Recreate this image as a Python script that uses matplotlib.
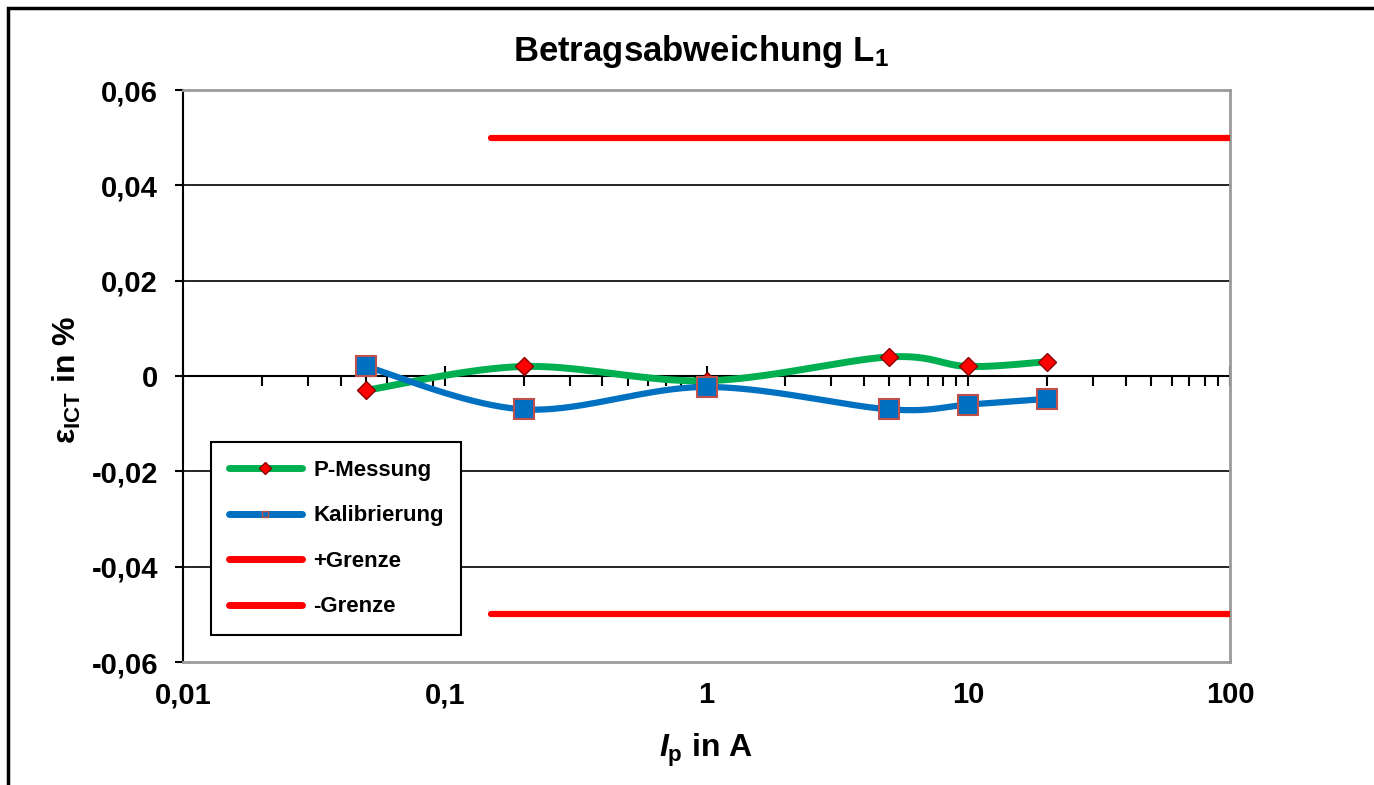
import numpy as np
import matplotlib.pyplot as plt
from matplotlib.lines import Line2D
from matplotlib.patches import Rectangle
from matplotlib.ticker import FixedLocator, FixedFormatter, LogLocator, NullFormatter

plt.rcParams['font.family'] = 'Liberation Sans'
plt.rcParams['font.weight'] = 'bold'
plt.rcParams['mathtext.fontset'] = 'custom'
plt.rcParams['mathtext.rm'] = 'Liberation Sans:bold'
plt.rcParams['mathtext.bf'] = 'Liberation Sans:bold'
plt.rcParams['mathtext.it'] = 'Liberation Sans:italic:bold'

# Messwerte
strom = [0.05, 0.2, 1, 5, 10, 20]
p_messung = [-0.003, 0.002, -0.001, 0.004, 0.002, 0.003]
kalibrierung = [0.002, -0.007, -0.0023, -0.007, -0.006, -0.0048]

# Fehlergrenzen
grenze_x = [0.15, 100]
grenze_plus = [0.05, 0.05]
grenze_minus = [-0.05, -0.05]

x_ticks = [0.01, 0.1, 1, 10, 100]
x_labels = ['0,01', '0,1', '1', '10', '100']
y_ticks = [-0.06, -0.04, -0.02, 0, 0.02, 0.04, 0.06]
y_labels = ['-0,06', '-0,04', '-0,02', '0', '0,02', '0,04', '0,06']

GRUEN = '#00B050'
BLAU = '#0070C0'
ROT = '#FF0000'


def smooth(ax, xs, ys, n=40):
    # Bezier-Glaettung wie in Excel, in Bildschirmkoordinaten
    pts = ax.transData.transform(np.column_stack([xs, ys]))
    p = np.vstack([pts[0], pts, pts[-1]])
    t = np.linspace(0, 1, n)[:, None]
    segs = []
    for i in range(1, len(p) - 2):
        p0, p3 = p[i], p[i + 1]
        c1 = p0 + (p[i + 1] - p[i - 1]) / 6
        c2 = p3 - (p[i + 2] - p[i]) / 6
        segs.append((1 - t) ** 3 * p0 + 3 * (1 - t) ** 2 * t * c1
                    + 3 * (1 - t) * t ** 2 * c2 + t ** 3 * p3)
    curve = ax.transData.inverted().transform(np.vstack(segs))
    return curve[:, 0], curve[:, 1]


fig = plt.figure(figsize=(13.74, 7.85), dpi=100)
ax = fig.add_axes([183 / 1374, 1 - 662 / 785, 1047 / 1374, 572 / 785])
ax.set_xscale('log')
ax.set_xlim(0.01, 100)
ax.set_ylim(-0.06, 0.06)

# Rahmen des Diagrammbereichs
fig.patches.append(Rectangle((8 / 1374, -0.2), 1.5, 1.2 - 8 / 785,
                             transform=fig.transFigure, fill=False,
                             edgecolor='black', linewidth=2.5))

for y in y_ticks[1:-1]:
    if y != 0:
        ax.axhline(y, color='black', linewidth=1.2, zorder=1)

for s in ['top', 'right', 'bottom']:
    ax.spines[s].set_color('#9a9a9a')
    ax.spines[s].set_linewidth(2)
ax.spines['left'].set_color('black')
ax.spines['left'].set_linewidth(1.5)

ax.yaxis.set_major_locator(FixedLocator(y_ticks))
ax.yaxis.set_major_formatter(FixedFormatter(y_labels))
ax.tick_params(axis='y', direction='out', length=6, width=1.5, pad=12,
               labelsize=21)
ax.xaxis.set_major_locator(FixedLocator(x_ticks))
ax.xaxis.set_major_formatter(FixedFormatter(x_labels))
ax.xaxis.set_minor_locator(LogLocator(subs=np.arange(2, 10)))
ax.xaxis.set_minor_formatter(NullFormatter())
ax.tick_params(axis='x', which='both', length=0, pad=14, labelsize=21)

# Rubrikenachse bei y = 0
sec = ax.secondary_xaxis(0, transform=ax.transData)
sec.spines['bottom'].set_linewidth(1.5)
sec.xaxis.set_major_locator(FixedLocator(x_ticks))
sec.xaxis.set_major_formatter(NullFormatter())
sec.xaxis.set_minor_locator(LogLocator(subs=np.arange(2, 10)))
sec.xaxis.set_minor_formatter(NullFormatter())
sec.tick_params(which='major', direction='inout', length=14, width=1.5)
sec.tick_params(which='minor', direction='out', length=7, width=1.5)

ax.plot(grenze_x, grenze_plus, color=ROT, linewidth=4.5,
        solid_capstyle='round', zorder=3)
ax.plot(grenze_x, grenze_minus, color=ROT, linewidth=4.5,
        solid_capstyle='round', zorder=3)

gx, gy = smooth(ax, strom, p_messung)
ax.plot(gx, gy, color=GRUEN, linewidth=5, solid_capstyle='round', zorder=4)
ax.plot(strom, p_messung, linestyle='none', marker='D', markersize=9.5,
        markerfacecolor=ROT, markeredgecolor='#8B0000',
        markeredgewidth=1, zorder=5)

bx, by = smooth(ax, strom, kalibrierung)
ax.plot(bx, by, color=BLAU, linewidth=4.5, solid_capstyle='round', zorder=6)
ax.plot(strom, kalibrierung, linestyle='none', marker='s', markersize=14.5,
        markerfacecolor=BLAU, markeredgecolor='#C0504D',
        markeredgewidth=1.5, zorder=7)

handles = [
    Line2D([], [], color=GRUEN, linewidth=5, marker='D', markersize=6,
           markerfacecolor=ROT, markeredgecolor='#8B0000',
           solid_capstyle='round'),
    Line2D([], [], color=BLAU, linewidth=5, marker='s', markersize=5,
           markerfacecolor=BLAU, markeredgecolor='#C0504D',
           solid_capstyle='round'),
    Line2D([], [], color=ROT, linewidth=5, solid_capstyle='round'),
    Line2D([], [], color=ROT, linewidth=5, solid_capstyle='round'),
]
leg = ax.legend(handles, ['P-Messung', 'Kalibrierung', '+Grenze', '-Grenze'],
                loc='lower left', bbox_to_anchor=(0.0267, 0.047),
                borderaxespad=0, fancybox=False, framealpha=1,
                edgecolor='black', fontsize=16, handlelength=3.3,
                handletextpad=0.5, labelspacing=1.1, numpoints=1,
                borderpad=0.8)
leg.get_frame().set_linewidth(1.5)
leg.set_zorder(10)

fig.text(701 / 1374, 1 - 52 / 785, r'Betragsabweichung $\mathbf{L_1}$',
         ha='center', va='center', fontsize=25, fontweight='bold')
fig.text(67 / 1374, 1 - 380 / 785, r'$\mathbf{\varepsilon_{ICT}}$ in %',
         ha='center', va='center', rotation=90, fontsize=23,
         fontweight='bold')
fig.text(706 / 1374, 1 - 750 / 785, r'$\mathit{I}_{\mathrm{p}}$ in A',
         ha='center', va='center', fontsize=23, fontweight='bold')

fig.savefig('out.png', dpi=100)
